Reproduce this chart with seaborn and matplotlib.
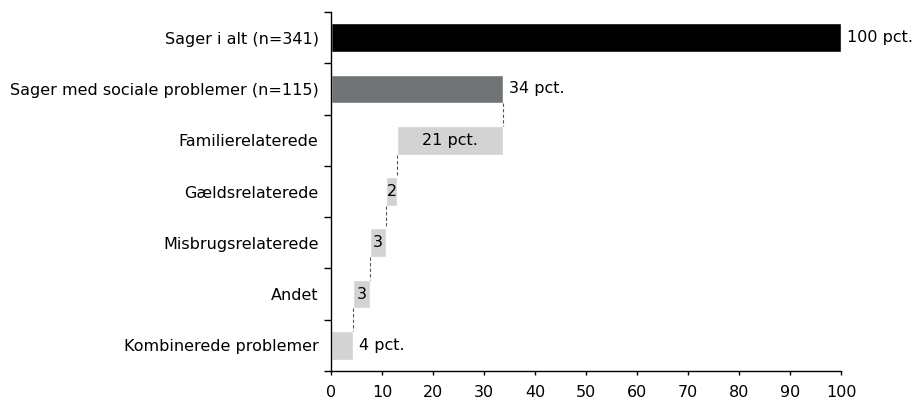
import numpy as np
import pandas as pd
import seaborn as sns
import matplotlib.pyplot as plt

categories = ['Sager i alt (n=341)', 'Sager med sociale problemer (n=115)',
              'Familierelaterede', 'Gældsrelaterede', 'Misbrugsrelaterede',
              'Andet', 'Kombinerede problemer']
starts = [0, 0, 13.0, 10.8, 7.65, 4.35, 0]
widths = [100, 33.7, 20.7, 2.2, 3.15, 3.3, 4.35]
labels = ['100 pct.', '34 pct.', '21 pct.', '2', '3', '3', '4 pct.']
label_inside = [False, False, True, True, True, True, False]
colors = ['#000000', '#717476', '#d3d3d3', '#d3d3d3', '#d3d3d3', '#d3d3d3', '#d3d3d3']

df = pd.DataFrame({'cat': categories, 'start': starts, 'width': widths})
df['end'] = df['start'] + df['width']

sns.set_style('white')
plt.rcParams['font.family'] = ['DejaVu Sans']
plt.rcParams['text.color'] = 'black'
plt.rcParams['xtick.color'] = 'black'
plt.rcParams['ytick.color'] = 'black'
fs = 11.5
fig = plt.figure(figsize=(9.13, 4.03), dpi=100)
ax = fig.add_axes([0.3626, 0.0794, 0.5586, 0.8906])

sns.barplot(data=df, y='cat', x='end', hue='cat', palette=colors, legend=False,
            width=0.56, saturation=1, ax=ax, orient='h')
sns.barplot(data=df, y='cat', x='start', color='white', width=0.58,
            saturation=1, ax=ax, orient='h')

# connectors
for i in range(1, len(categories) - 1):
    x = df['start'][i] if i > 1 else df['end'][i]
    ax.plot([x, x], [i + 0.28, i + 1 - 0.28], color='#555555', lw=0.8,
            ls=(0, (3, 2)), zorder=3)

for i, (lab, inside) in enumerate(zip(labels, label_inside)):
    if inside:
        ax.text(df['start'][i] + df['width'][i] / 2, i, lab, ha='center',
                va='center', fontsize=fs, color='black')
    else:
        ax.text(df['end'][i] + 1.1, i, lab, ha='left', va='center',
                fontsize=fs, color='black')

ax.set_xlim(0, 100)
ax.set_ylim(6.5, -0.5)
ax.set_xticks(range(0, 101, 10))
ax.set_xlabel('')
ax.set_ylabel('')
ax.set_yticks(range(len(categories)))
ax.set_yticklabels(categories, fontsize=fs)
ax.set_yticks(np.arange(-0.5, 7, 1), minor=True)
ax.tick_params(axis='y', which='major', length=0, pad=9)
ax.tick_params(axis='y', which='minor', length=5, width=1, color='black', left=True)
ax.tick_params(axis='x', length=3, width=1, color='black', labelsize=fs, pad=7, bottom=True)
for s in ['top', 'right']:
    ax.spines[s].set_visible(False)
for s in ['left', 'bottom']:
    ax.spines[s].set_color('black')
    ax.spines[s].set_linewidth(1)

fig.savefig('out.png', dpi=100)
